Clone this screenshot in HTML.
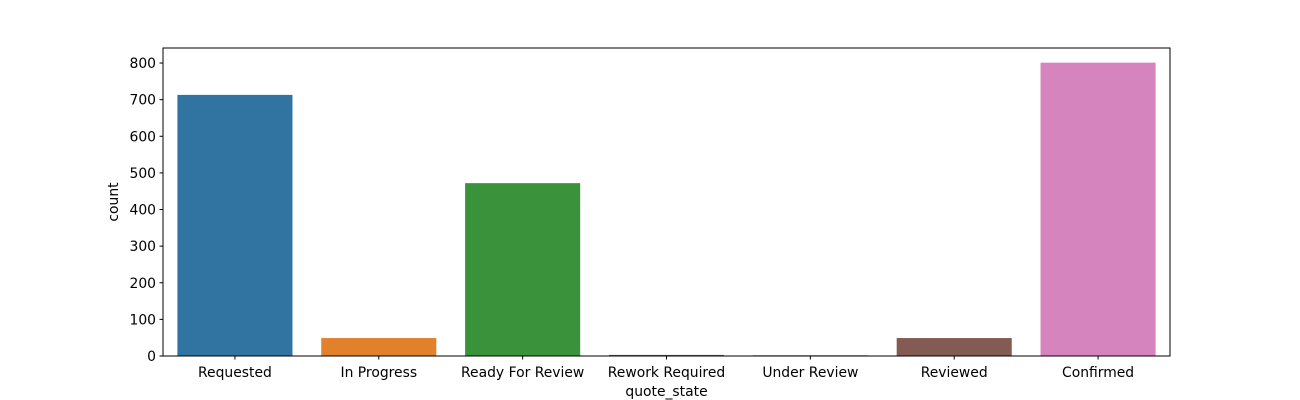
<!DOCTYPE html>
<html><head><meta charset="utf-8"><style>body{margin:0;background:#fff}svg{display:block;font-family:"DejaVu Sans","Liberation Sans",sans-serif}</style></head>
<body>
<svg id="chart" width="1300" height="400"></svg>
<script>
const categories=["Requested","In Progress","Ready For Review","Rework Required","Under Review","Reviewed","Confirmed"];
const counts=[713,49,472,3,2,49,801];
const colors=["#3274a1","#e1812c","#3a923a","#c03d3e","#9372b2","#845b53","#d684bd"];
const yTicks=[0,100,200,300,400,500,600,700,800];
const L=163,R=1170,T=48,B=356;
const FS=13.9;
const yMax=Math.max(...counts)*1.05;
const y=v=>B-(v/yMax)*(B-T);
const slot=(R-L)/categories.length;
const x=i=>L+slot*(i+0.5);
const svg=document.getElementById('chart');
const NS="http://www.w3.org/2000/svg";
function mk(t,a,p){const e=document.createElementNS(NS,t);for(const k in a)e.setAttribute(k,a[k]);(p||svg).appendChild(e);return e;}
counts.forEach((v,i)=>{
 const r=mk('rect',{x:x(i)-slot*0.4,y:y(v),width:slot*0.8,height:B-y(v),fill:colors[i]});
 
 
});
const frame=mk('rect',{x:L,y:T,width:R-L,height:B-T,fill:'none',stroke:'#000','stroke-width':1});


yTicks.forEach(t=>{
 mk('line',{x1:L-3.5,x2:L,y1:y(t),y2:y(t),stroke:'#000'});
 const tx=mk('text',{x:L-7,y:y(t)+5,'text-anchor':'end','font-size':FS});
 tx.textContent=t;
 
 
});
categories.forEach((c,i)=>{
 mk('line',{x1:x(i),x2:x(i),y1:B,y2:B+3.5,stroke:'#000'});
 const tx=mk('text',{x:x(i),y:B+21,'text-anchor':'middle','font-size':FS});
 tx.textContent=c;
 
 
});
const xl=mk('text',{x:(L+R)/2,y:396,'text-anchor':'middle','font-size':FS});
xl.textContent='quote_state';


const yl=mk('text',{x:118,y:(T+B)/2,'text-anchor':'middle','font-size':FS,transform:'rotate(-90 118 '+((T+B)/2)+')'});
yl.textContent='count';


</script>
</body></html>
